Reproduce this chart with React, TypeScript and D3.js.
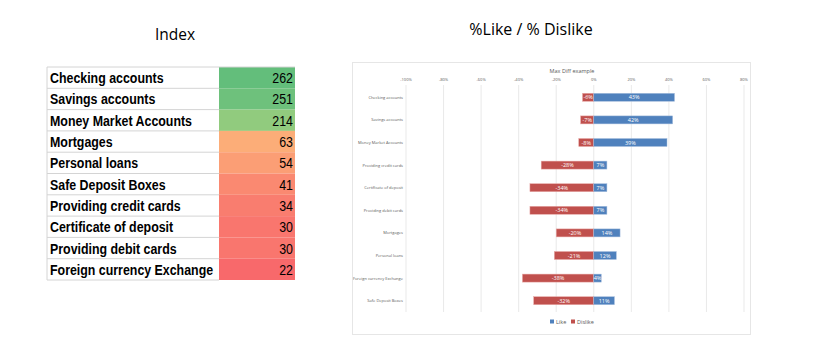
import React from "react";
import * as d3 from "d3";

const tableCategories = [
  "Checking accounts",
  "Savings accounts",
  "Money Market Accounts",
  "Mortgages",
  "Personal loans",
  "Safe Deposit Boxes",
  "Providing credit cards",
  "Certificate of deposit",
  "Providing debit cards",
  "Foreign currency Exchange",
];
const tableValues = [262, 251, 214, 63, 54, 41, 34, 30, 30, 22];

const chartCategories = [
  "Checking accounts",
  "Savings accounts",
  "Money Market Accounts",
  "Providing credit cards",
  "Certificate of deposit",
  "Providing debit cards",
  "Mortgages",
  "Personal loans",
  "Foreign currency Exchange",
  "Safe Deposit Boxes",
];
const likeValues = [43, 42, 39, 7, 7, 7, 14, 12, 4, 11];
const dislikeValues = [-6, -7, -8, -28, -34, -34, -20, -21, -38, -32];
const tickValues = [-100, -80, -60, -40, -20, 0, 20, 40, 60, 80];

const BLUE = "#4F81BD";
const RED = "#C0504D";

export default function App() {
  // table
  const tX = 47, tY = 67, tW1 = 172, tW2 = 76, rowH = 21.3;
  const colorScale = d3
    .scaleLinear<string>()
    .domain([22, 100, 262])
    .range(["#F8696B", "#FFEB84", "#63BE7B"])
    .interpolate(d3.interpolateRgb);

  // chart
  const x = d3.scaleLinear().domain([-100, 80]).range([406, 744]);
  const y = d3.scalePoint<string>().domain(chartCategories).range([86, 312]).padding(0.5);
  const barH = 8;
  const chartFont = "'Open Sans', 'Liberation Sans', sans-serif";
  const tableFont = "'Liberation Sans', Arial, sans-serif";
  const narrow = 0.8;

  return (
    <svg width={832} height={352} style={{ position: "absolute", left: 0, top: 0, background: "#fff" }}>
      {/* headers */}
      <text x={175} y={40} textAnchor="middle" fontFamily={chartFont} fontSize={15.5} fill="#000">Index</text>
      <text x={531} y={35} textAnchor="middle" fontFamily={chartFont} fontSize={16} fill="#000">%Like / % Dislike</text>

      {/* table */}
      {tableCategories.map((c, i) => {
        const ry = tY + i * rowH;
        const by = ry + rowH / 2 + 5.5;
        const lx = tX + 3;
        const vx = tX + tW1 + tW2 - 2;
        return (
          <g key={c}>
            <rect x={tX + tW1} y={ry} width={tW2} height={rowH} fill={colorScale(tableValues[i])} />
            <line x1={tX} x2={tX + tW1} y1={ry + rowH} y2={ry + rowH} stroke="#D4D4D4" strokeWidth={1} />
            <text transform={`translate(${lx},${by}) scale(${narrow},1)`} fontFamily={tableFont} fontWeight="bold" fontSize={15.5} fill="#000">{c}</text>
            <text transform={`translate(${vx},${by}) scale(${narrow},1)`} textAnchor="end" fontFamily={tableFont} fontSize={15.5} fill="#000">{tableValues[i]}</text>
          </g>
        );
      })}
      <line x1={tX} x2={tX + tW1 + tW2} y1={tY} y2={tY} stroke="#D4D4D4" />
      <line x1={tX} x2={tX} y1={tY} y2={tY + rowH * 10} stroke="#D4D4D4" />

      {/* chart frame */}
      <rect x={352.5} y={62.5} width={398} height={272} fill="none" stroke="#E6E6E6" strokeWidth={1} />
      <text x={572} y={73} textAnchor="middle" fontFamily={chartFont} fontSize={5.5} fill="#595959">Max Diff  example</text>

      {tickValues.map((t) => (
        <g key={t}>
          <line x1={x(t)} x2={x(t)} y1={85} y2={312} stroke="#E3E3E3" strokeWidth={0.8} />
          <text x={x(t)} y={81} textAnchor="middle" fontFamily={chartFont} fontSize={4} fill="#595959">{`${t}%`}</text>
        </g>
      ))}

      {chartCategories.map((c, i) => {
        const cy = y(c)!;
        const l = likeValues[i], d = dislikeValues[i];
        return (
          <g key={c}>
            <text x={403} y={cy + 1.5} textAnchor="end" fontFamily={chartFont} fontSize={4} fill="#595959">{c}</text>
            <rect x={x(d)} y={cy - barH / 2} width={x(0) - x(d)} height={barH} fill={RED} stroke="#E8A9A7" strokeWidth={0.5} />
            <rect x={x(0)} y={cy - barH / 2} width={x(l) - x(0)} height={barH} fill={BLUE} stroke="#A9C0DE" strokeWidth={0.5} />
            <text x={(x(d) + x(0)) / 2} y={cy + 2} textAnchor="middle" fontFamily={chartFont} fontSize={5.5} fill="#fff">{`${d}%`}</text>
            <text x={(x(l) + x(0)) / 2} y={cy + 2} textAnchor="middle" fontFamily={chartFont} fontSize={5.5} fill="#fff">{`${l}%`}</text>
          </g>
        );
      })}

      {/* legend */}
      <rect x={550} y={319.5} width={4} height={4} fill={BLUE} />
      <text x={556} y={323.5} fontFamily={chartFont} fontSize={5.5} fill="#595959">Like</text>
      <rect x={571} y={319.5} width={4} height={4} fill={RED} />
      <text x={577} y={323.5} fontFamily={chartFont} fontSize={5.5} fill="#595959">Dislike</text>
    </svg>
  );
}
